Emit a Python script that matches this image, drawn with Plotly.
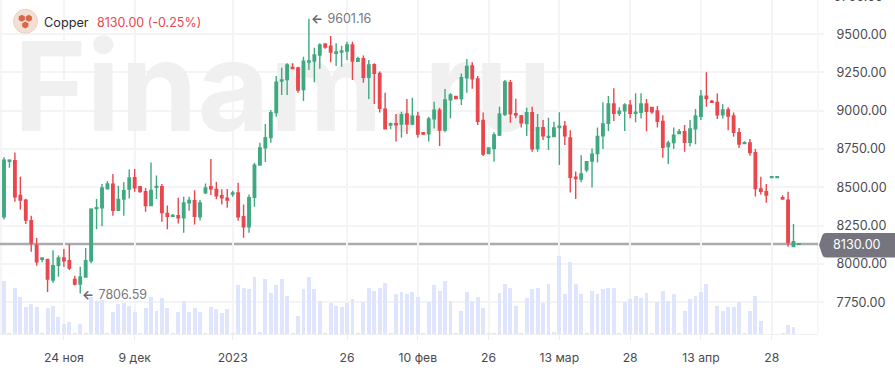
import plotly.graph_objects as go

W, H = 895, 380
PLOT_RIGHT, PLOT_BOTTOM = 818, 334

# Candle data, oldest first (price in USD)
opens = [8308,8670,8674,8448,8417,8282,8121,8030,8030,7895,7991,8039,8021,7899,7869,7915,8021,8361,8367,8491,
         8520,8350,8424,8489,8563,8504,8472,8382,8500,8504,8330,8311,8315,8302,8400,8413,8308,8465,8504,8487,
         8445,8430,8456,8463,8308,8243,8435,8646,8759,8826,8988,9194,9203,9283,9279,9138,9318,9325,9364,9436,
         9421,9375,9384,9390,9429,9323,9340,9218,9301,9244,9011,8907,8916,8914,8979,8914,8964,8857,8850,8948,
         9003,8874,9072,9094,9079,9216,9292,9207,8937,8720,8753,8842,8977,9183,8981,8966,8916,8988,8753,8890,
         8827,8831,8890,8899,8823,8566,8555,8614,8672,8720,8836,8918,9044,8984,8999,9036,8984,8990,9044,9021,
         8999,8931,8766,8792,8851,8864,8794,8883,8964,9095,9062,9055,8973,9005,8966,8857,8786,8790,8727,8490,
         8472,8564,8564,8433,8416,8113,8128]
highs = [8696,8683,8728,8570,8426,8315,8169,8039,8030,8089,8056,8097,8128,7923,7982,8104,8363,8424,8522,8541,
         8587,8511,8533,8617,8620,8504,8496,8663,8578,8522,8382,8326,8432,8439,8439,8482,8417,8526,8685,8537,
         8487,8489,8478,8530,8389,8454,8661,8791,8913,9005,9227,9281,9310,9310,9288,9353,9601.16,9412,9440,9440,
         9488,9440,9425,9451,9451,9353,9360,9331,9310,9257,9118,8924,8979,8994,9077,9085,8994,8861,8961,9059,
         9020,9142,9114,9094,9244,9338,9316,9227,8988,8757,8859,9027,9201,9201,9079,8972,9020,9027,8979,8940,
         8955,8929,8990,8933,8873,8603,8709,8672,8753,8890,9055,9097,9147,9023,9049,9071,9114,9114,9077,9023,
         9031,8970,8805,8890,8881,8907,8940,9012,9136,9251,9071,9112,9042,9023,8988,8888,8801,8816,8751,8570,
         8522,8571,8571,8448,8472,8261,8131]
lows = [8291,8628,8406,8356,8261,8080,7989,8012,7817,7878,7917,7982,7960,7860,7806.59,7910,8004,8226,8247,8487,
        8315,8345,8315,8428,8472,8465,8341,8382,8424,8276,8226,8308,8265,8204,8348,8258,8284,8456,8450,8422,
        8389,8367,8439,8282,8171,8204,8374,8644,8665,8791,8961,9103,9103,9275,9118,9064,9266,9186,9275,9405,
        9316,9292,9288,9331,9201,9318,9183,9077,9044,8988,8879,8879,8800,8824,8848,8907,8824,8842,8800,8885,
        8770,8859,8951,9077,9038,9118,9144,8907,8705,8716,8668,8835,8966,8922,8951,8890,8835,8733,8733,8809,
        8744,8827,8646,8777,8466,8424,8533,8598,8500,8662,8751,8868,8934,8966,8868,8951,8925,8949,8866,8981,
        8890,8694,8653,8751,8849,8733,8766,8781,8940,9027,9053,8947,8949,8873,8831,8757,8781,8707,8440,8453,
        8400,8563,8563,8422,8113,8113,8127]
closes = [8678,8678,8439,8417,8287,8139,8015,8039,7902,7989,8039,8021,7973,7869,7915,8021,8358,8367,8496,8522,
          8350,8422,8478,8561,8498,8472,8382,8480,8506,8335,8311,8317,8302,8398,8415,8311,8398,8496,8491,8445,
          8432,8417,8463,8308,8243,8432,8644,8757,8824,8987,9186,9201,9299,9275,9135,9323,9325,9364,9429,9416,
          9384,9384,9390,9429,9325,9340,9218,9299,9244,9016,8883,8916,8909,8974,8914,8964,8848,8848,8946,9003,
          8874,9070,9103,9079,9216,9290,9209,8931,8718,8757,8842,8977,9188,8981,8972,8922,8988,8751,8890,8836,
          8833,8888,8899,8836,8566,8557,8588,8668,8716,8833,8914,9044,8984,8997,9038,8984,8990,9044,8997,8994,
          8931,8762,8790,8840,8864,8794,8881,8966,9095,9079,9055,8973,9005,8966,8860,8783,8792,8727,8492,8474,
          8450,8570,8570,8424,8141,8146,8130]

# Volume, in the arbitrary unit of the lower pane (its scale is not labelled)
volumes = [53,1,46,37,27,30,27,1,26,28,17,10,12,1,10,1,37,33,34,1,
           22,30,31,28,22,1,26,37,23,36,26,1,22,33,22,26,22,1,27,25,
           21,25,1,49,46,45,57,2,55,41,49,55,38,1,18,45,57,45,33,1,
           31,28,27,31,35,1,32,46,43,46,51,1,40,42,40,42,37,1,32,49,
           43,53,33,1,23,42,33,37,26,1,1,41,50,46,28,1,36,45,46,31,
           50,2,78,40,72,50,40,1,43,40,45,46,46,1,32,35,38,36,41,1,
           32,43,33,40,1,23,35,38,42,50,1,28,23,27,27,32,1,23,38,13,
           0,0,0,1,9,7,0]

bar_index = list(range(len(closes)))
tick_positions = [11, 24, 42, 63, 76, 89, 102, 115, 128, 141]
tick_labels = ["24 ноя", "9 дек", "2023", "26", "10 фев", "26", "13 мар", "28", "13 апр", "28"]
price_ticks = [7750, 8000, 8250, 8500, 8750, 9000, 9250, 9500]
price_tick_labels = ["7750.00", "8000.00", "8250.00", "8500.00", "8750.00", "9000.00", "9250.00", "9500.00"]
clipped_top_label = "9750.00"
last_price, last_change = 8130.00, -0.25
max_i, max_price = 56, 9601.16
min_i, min_price = 14, 7806.59

GREEN, RED = "#3fa980", "#e9474d"
GRID = "#f4f4f6"
FONT = "Inter"

def px(x):
    return x / W

def py(y):
    return 1 - y / PLOT_BOTTOM

fig = go.Figure()
# Watermark sits in the lowest layer, under bars and candles
fig.add_trace(go.Scatter(x=[51.2], y=[234], mode="text", text=["Finam.ru"], yaxis="y", xaxis="x",
                         textposition="middle center", cliponaxis=False, hoverinfo="skip",
                         textfont=dict(family=FONT, size=124, color="#f0f0f0", weight=700), showlegend=False))
fig.add_trace(go.Bar(x=bar_index, y=volumes, width=0.72, marker=dict(color="#dfe5fd", line_width=0),
                     yaxis="y", xaxis="x", hoverinfo="skip", showlegend=False))
fig.add_trace(go.Candlestick(x=bar_index, open=opens, high=highs, low=lows, close=closes, yaxis="y2", xaxis="x",
                             increasing=dict(line=dict(color=GREEN, width=1.4), fillcolor=GREEN),
                             decreasing=dict(line=dict(color=RED, width=1.4), fillcolor=RED),
                             whiskerwidth=0, hoverinfo="skip", showlegend=False))

shapes = [
    # left and right plot edges
    dict(type="line", xref="paper", yref="paper", x0=px(1), x1=px(1), y0=0, y1=1, line=dict(color="#ececef", width=1), layer="below"),
    dict(type="line", xref="paper", yref="paper", x0=px(PLOT_RIGHT), x1=px(PLOT_RIGHT), y0=0, y1=1, line=dict(color=GRID, width=1.5), layer="below"),
    # soft backing behind the header
    dict(type="rect", xref="paper", yref="paper", x0=px(10), x1=px(204), y0=py(33), y1=py(9), fillcolor="rgba(255,255,255,0.75)", line_width=0, layer="below"),
    # last price line
    dict(type="line", xref="paper", yref="y2", x0=0, x1=px(PLOT_RIGHT), y0=last_price, y1=last_price, line=dict(color="#aaaab0", width=2.5), layer="below"),
    # price tag
    dict(type="path", xref="paper", yref="paper", fillcolor="#76757f", line_width=0,
         path=f"M {px(819)} {py(245)} L {px(822)} {py(236)} Q {px(823)} {py(233)} {px(826)} {py(233)} "
              f"L {px(895)} {py(233)} L {px(895)} {py(257.5)} L {px(826)} {py(257.5)} Q {px(823)} {py(257.5)} {px(822)} {py(254)} Z"),
    # icon
    dict(type="circle", xref="paper", yref="paper", x0=px(13.5), x1=px(37.5), y0=py(33.3), y1=py(9.3),
         fillcolor="#f3dfd4", line=dict(color="#ead2c6", width=1)),
]
for cx, cy in [(21.8, 18.3), (28.8, 18.3), (25.3, 25)]:
    shapes.append(dict(type="path", xref="paper", yref="paper", fillcolor="#d8674a", line_width=0,
                       path=f"M {px(cx)} {py(cy-3.5)} L {px(cx+3.1)} {py(cy-1.8)} L {px(cx+3.1)} {py(cy+1.8)} "
                            f"L {px(cx)} {py(cy+3.5)} L {px(cx-3.1)} {py(cy+1.8)} L {px(cx-3.1)} {py(cy-1.8)} Z"))

ARROW = '<b><span style="color:#66666b">←</span></b>\u2009\u2009'
annotations = [
    dict(xref="paper", yref="paper", x=px(42), y=py(22.7), xanchor="left", yanchor="middle", showarrow=False,
         text="Copper", font=dict(family=FONT, size=12.7, color="#2b2b2f")),
    dict(xref="paper", yref="paper", x=px(95), y=py(22.7), xanchor="left", yanchor="middle", showarrow=False,
         text=f"{last_price:.2f} ({last_change:.2f}%)", font=dict(family=FONT, size=12.5, color="#e9474d")),
    dict(xref="paper", yref="paper", x=px(856.5), y=py(245), xanchor="center", yanchor="middle", showarrow=False,
         text=f"{last_price:.2f}", font=dict(family=FONT, size=12.6, color="#ffffff")),
    dict(xref="x", yref="y2", x=max_i, y=max_price, xanchor="left", yanchor="middle", xshift=0, showarrow=False,
         text=ARROW + f"{max_price:.2f}", font=dict(family=FONT, size=12.5, color="#77777c")),
    dict(xref="x", yref="y2", x=min_i, y=min_price, xanchor="left", yanchor="middle", xshift=0, yshift=-1, showarrow=False,
         text=ARROW + f"{min_price:.2f}", font=dict(family=FONT, size=12.5, color="#77777c")),
    dict(xref="paper", yref="paper", x=px(832), y=py(-3.5), xanchor="left", yanchor="middle", showarrow=False,
         text=clipped_top_label, font=dict(family=FONT, size=12.6, color="#4a4a50")),
]

fig.update_layout(
    width=W, height=H, margin=dict(l=0, r=0, t=0, b=H - PLOT_BOTTOM, pad=0, autoexpand=False),
    paper_bgcolor="#ffffff", plot_bgcolor="#ffffff", showlegend=False, boxgap=0.36, bargap=0,
    shapes=shapes, annotations=annotations, font=dict(family=FONT, size=12, color="#4a4a50"),
    xaxis=dict(domain=[0, PLOT_RIGHT / W], range=[-0.735, 149.5], tickmode="array", tickvals=tick_positions,
               ticktext=tick_labels, ticks="outside", ticklen=5, tickcolor="#ececef", tickwidth=1,
               showgrid=True, gridcolor=GRID, gridwidth=1.5, showline=True, linecolor="#f0f0f3", linewidth=1,
               zeroline=False, rangeslider=dict(visible=False), tickfont=dict(family=FONT, size=12.2, color="#4a4a50"),
               ticklabelstandoff=7),
    yaxis=dict(domain=[0, 1], range=[0, PLOT_BOTTOM], visible=False, fixedrange=True),
    yaxis2=dict(domain=[0, 1], range=[7543, 9723], overlaying="y", side="right", tickmode="array",
                tickvals=price_ticks, ticktext=price_tick_labels, showgrid=True, gridcolor=GRID, gridwidth=1.5,
                zeroline=False, showline=False, ticks="outside", ticklen=5, tickcolor=GRID, tickwidth=1.5,
                tickfont=dict(family=FONT, size=12.6, color="#4a4a50"), ticklabelstandoff=10, anchor="x"),
)

fig.write_html("out.html", config={"displayModeBar": False},
               post_script="document.body.style.margin='0';")
